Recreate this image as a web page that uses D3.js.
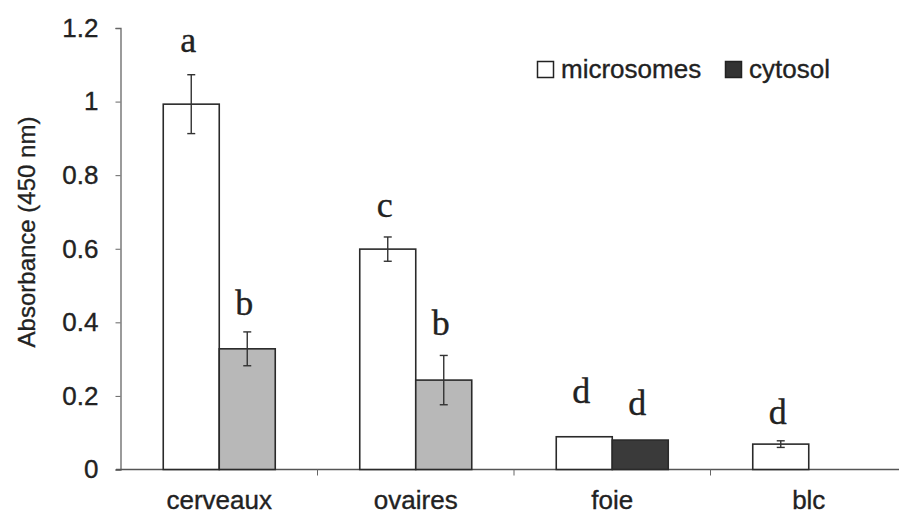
<!DOCTYPE html>
<html>
<head>
<meta charset="utf-8">
<script src="https://cdn.jsdelivr.net/npm/d3@7"></script>
<style>
  body { margin: 0; background: #fff; }
  svg { display: block; }
  .tick text { font-family: "Liberation Sans", Arial, sans-serif; fill: #222; stroke: #222; stroke-width: 0.35; }
  .heavy { stroke: #222; stroke-width: 0.35; }
</style>
</head>
<body>
<svg id="chart" width="899" height="518"></svg>
<script>
// data
var categories = ["cerveaux", "ovaires", "foie", "blc"];
var series = ["microsomes", "cytosol"];
var microsomes = [0.993, 0.599, 0.089, 0.069];
var microsomesErr = [0.080, 0.033, 0, 0.009];
var cytosol = [0.328, 0.243, 0.080, 0];
var cytosolErr = [0.046, 0.067, 0, 0];
// significance letters, and the height (in absorbance) where they sit
var microsomesLetters = ["a", "c", "d", "d"];
var microsomesLetterAt = [1.135, 0.686, 0.18, 0.124];
var cytosolLetters = ["b", "b", "d", ""];
var cytosolLetterAt = [0.42, 0.365, 0.148, 0];
var yTicks = [0, 0.2, 0.4, 0.6, 0.8, 1, 1.2];

var svg = d3.select("#chart");

var x = d3.scaleBand().domain(categories).range([121, 907]);
var x1 = d3.scaleBand().domain(series).range([0, 112]);
var y = d3.scaleLinear().domain([0, 1.2]).range([469.5, 28]);
var off = x.bandwidth() / 2 - 56;

var rows = categories.map(function(c, i) {
  return [
    {cat: c, s: "microsomes", v: microsomes[i], e: microsomesErr[i], l: microsomesLetters[i], la: microsomesLetterAt[i]},
    {cat: c, s: "cytosol", v: cytosol[i], e: cytosolErr[i], l: cytosolLetters[i], la: cytosolLetterAt[i]}
  ];
}).flat();

function fillOf(d) {
  if (d.s === "microsomes") return "#fff";
  return d.cat === "foie" ? "#3a3a3a" : "#b8b8b8";
}

// y axis
var yAxis = svg.append("g")
  .attr("transform", "translate(120.5,0)")
  .call(d3.axisLeft(y).tickValues(yTicks).tickSize(5).tickPadding(17)
    .tickFormat(function(d) { return d3.format("")(d); }));
yAxis.select(".domain").attr("stroke", "#666").attr("stroke-width", 1.3);
yAxis.selectAll(".tick line").attr("stroke", "#666");
yAxis.selectAll(".tick text").attr("font-size", 26);

// x axis line and separator ticks
svg.append("line")
  .attr("x1", 116).attr("x2", 899)
  .attr("y1", y(0)).attr("y2", y(0))
  .attr("stroke", "#555").attr("stroke-width", 1.3);
svg.selectAll(".sep").data(categories.slice(1)).enter().append("line")
  .attr("class", "sep")
  .attr("x1", function(d) { return x(d); }).attr("x2", function(d) { return x(d); })
  .attr("y1", y(0)).attr("y2", y(0) + 6)
  .attr("stroke", "#666").attr("stroke-width", 1);

svg.selectAll(".xlab").data(categories).enter().append("text")
  .attr("class", "xlab heavy")
  .attr("x", function(d) { return x(d) + x.bandwidth() / 2; })
  .attr("y", 509)
  .attr("text-anchor", "middle")
  .attr("font-family", "Liberation Sans, Arial, sans-serif")
  .attr("font-size", 26)
  .attr("fill", "#222")
  .text(function(d) { return d; });

// bars
svg.selectAll(".bar").data(rows.filter(function(d) { return d.v > 0; })).enter().append("rect")
  .attr("class", "bar")
  .attr("x", function(d) { return x(d.cat) + off + x1(d.s); })
  .attr("width", x1.bandwidth())
  .attr("y", function(d) { return y(d.v); })
  .attr("height", function(d) { return y(0) - y(d.v); })
  .attr("fill", fillOf)
  .attr("stroke", "#2a2a2a")
  .attr("stroke-width", 1.6);

// error bars
var eb = svg.selectAll(".err").data(rows.filter(function(d) { return d.e > 0; })).enter()
  .append("g").attr("class", "err")
  .attr("transform", function(d) { return "translate(" + (x(d.cat) + off + x1(d.s) + x1.bandwidth() / 2) + ",0)"; });
eb.append("line")
  .attr("y1", function(d) { return y(d.v + d.e); })
  .attr("y2", function(d) { return y(d.v - d.e); })
  .attr("stroke", "#333").attr("stroke-width", 1.4);
eb.append("line")
  .attr("x1", -4).attr("x2", 4)
  .attr("y1", function(d) { return y(d.v + d.e); })
  .attr("y2", function(d) { return y(d.v + d.e); })
  .attr("stroke", "#333").attr("stroke-width", 1.4);
eb.append("line")
  .attr("x1", -4).attr("x2", 4)
  .attr("y1", function(d) { return y(d.v - d.e); })
  .attr("y2", function(d) { return y(d.v - d.e); })
  .attr("stroke", "#333").attr("stroke-width", 1.4);

// letters
svg.selectAll(".letter").data(rows.filter(function(d) { return d.l; })).enter().append("text")
  .attr("class", "letter heavy")
  .attr("x", function(d) { return x(d.cat) + off + x1(d.s) + x1.bandwidth() / 2 - 3; })
  .attr("y", function(d) { return y(d.la); })
  .attr("text-anchor", "middle")
  .attr("font-family", "Liberation Serif, Times New Roman, serif")
  .attr("font-size", 36)
  .attr("fill", "#222")
  .text(function(d) { return d.l; });

// y title
svg.append("text")
  .attr("class", "heavy")
  .attr("transform", "translate(35,232) rotate(-90)")
  .attr("text-anchor", "middle")
  .attr("font-family", "Liberation Sans, Arial, sans-serif")
  .attr("font-size", 24)
  .attr("fill", "#222")
  .text("Absorbance (450 nm)");

// legend
var legend = svg.append("g").attr("transform", "translate(537,61)");
var lx = [0, 188];
var lfill = ["#fff", "#333"];
series.forEach(function(s, i) {
  legend.append("rect")
    .attr("x", lx[i] + 0.5).attr("y", 0.5)
    .attr("width", 16).attr("height", 16)
    .attr("fill", lfill[i])
    .attr("stroke", "#222").attr("stroke-width", 1.5);
  legend.append("text")
    .attr("class", "heavy")
    .attr("x", lx[i] + 24).attr("y", 17)
    .attr("font-family", "Liberation Sans, Arial, sans-serif")
    .attr("font-size", 26)
    .attr("fill", "#222")
    .text(s);
});
</script>
</body>
</html>
